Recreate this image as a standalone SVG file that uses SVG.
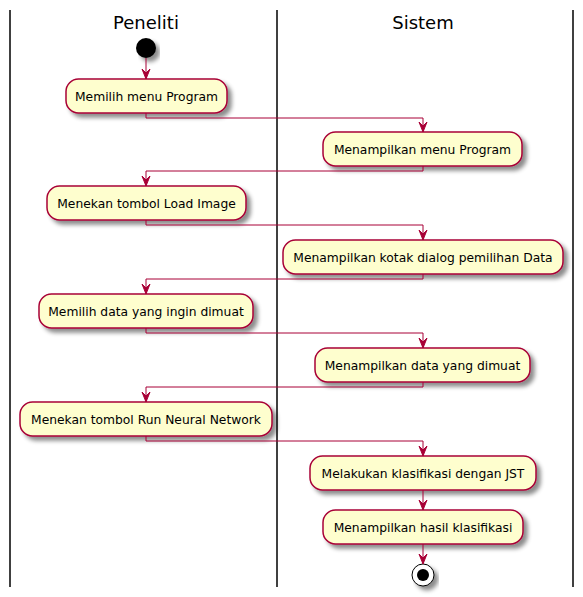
<svg xmlns="http://www.w3.org/2000/svg" width="583" height="597" viewBox="0 0 583 597">
<defs>
<filter id="sh" x="-10%" y="-20%" width="130%" height="160%">
<feGaussianBlur in="SourceAlpha" stdDeviation="2"/>
<feOffset dx="4" dy="4" result="b"/>
<feColorMatrix in="b" type="matrix" values="0 0 0 0 0  0 0 0 0 0  0 0 0 0 0  0 0 0 0.45 0"/>
<feMerge><feMergeNode/><feMergeNode in="SourceGraphic"/></feMerge>
</filter>
<marker id="ah" viewBox="0 0 10 10" refX="10" refY="5" markerWidth="10" markerHeight="10" markerUnits="userSpaceOnUse" orient="auto">
<path d="M0,1 L10,5 L0,9 L4,5 Z" fill="#A80036" stroke="#A80036" stroke-width="1"/>
</marker>
</defs>
<style>
.lane{stroke:#000;stroke-width:1.5;fill:none}
.title{font-family:"DejaVu Sans",sans-serif;font-size:18px;fill:#000;text-anchor:middle}
.box rect{fill:#FEFECE;stroke:#A80036;stroke-width:1.5;filter:url(#sh)}
.box text{font-family:"DejaVu Sans",sans-serif;font-size:12.3px;fill:#000;text-anchor:middle}
.con path{fill:none;stroke:#A80036;stroke-width:1;marker-end:url(#ah)}
</style>
<rect width="583" height="597" fill="#fff"/>
<g id="lanes">
<line class="lane" x1="10" y1="10" x2="10" y2="587"/>
<line class="lane" x1="277" y1="10" x2="277" y2="587"/>
<line class="lane" x1="573" y1="10" x2="573" y2="587"/>
<text class="title" x="146" y="29">Peneliti</text>
<text class="title" x="423" y="29">Sistem</text>
</g>
<g id="start"><circle cx="146" cy="48" r="10" fill="#000" filter="url(#sh)"/></g>
<g id="n1" class="box"><rect x="66" y="79" width="161" height="34" rx="12.5"/><text x="146.5" y="100.5">Memilih menu Program</text></g>
<g id="n2" class="box"><rect x="323" y="132" width="199" height="34" rx="12.5"/><text x="422.5" y="153.5">Menampilkan menu Program</text></g>
<g id="n3" class="box"><rect x="47" y="186" width="199" height="34" rx="12.5"/><text x="146.5" y="207.5">Menekan tombol Load Image</text></g>
<g id="n4" class="box"><rect x="283" y="240" width="280" height="34" rx="12.5"/><text x="423" y="261.5">Menampilkan kotak dialog pemilihan Data</text></g>
<g id="n5" class="box"><rect x="39" y="294" width="214" height="34" rx="12.5"/><text x="146" y="315.5">Memilih data yang ingin dimuat</text></g>
<g id="n6" class="box"><rect x="315" y="348" width="215" height="34" rx="12.5"/><text x="422.5" y="369.5">Menampilkan data yang dimuat</text></g>
<g id="n7" class="box"><rect x="20" y="402" width="252" height="34" rx="12.5"/><text x="146" y="423.5">Menekan tombol Run Neural Network</text></g>
<g id="n8" class="box"><rect x="310" y="456" width="226" height="34" rx="12.5"/><text x="423" y="477.5">Melakukan klasifikasi dengan JST</text></g>
<g id="n9" class="box"><rect x="323" y="510" width="200" height="34" rx="12.5"/><text x="423" y="531.5">Menampilkan hasil klasifikasi</text></g>
<g id="end"><circle cx="423" cy="575" r="11" fill="#fff" stroke="#000" stroke-width="1" filter="url(#sh)"/><circle cx="423" cy="575" r="6" fill="#000"/></g>
<g id="connectors" class="con">
<path d="M146,58 V79"/>
<path d="M146,113 V118 H423 V132"/>
<path d="M423,166 V171 H146 V186"/>
<path d="M146,220 V225 H423 V240"/>
<path d="M423,274 V279 H146 V294"/>
<path d="M146,328 V333 H423 V348"/>
<path d="M423,382 V387 H146 V402"/>
<path d="M146,436 V441 H423 V456"/>
<path d="M423,490 V510"/>
<path d="M423,544 V564"/>
</g>
</svg>
